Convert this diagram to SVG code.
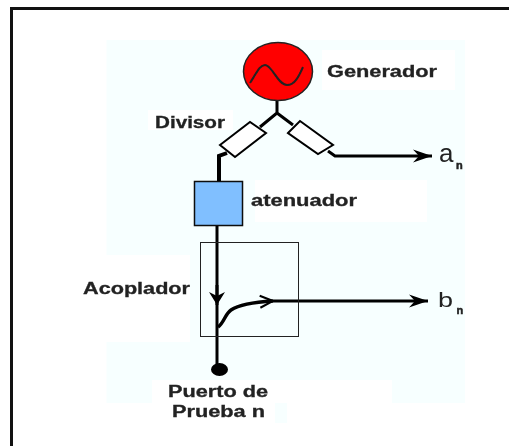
<svg xmlns="http://www.w3.org/2000/svg" width="509" height="446" viewBox="0 0 509 446">
<style>
.l{font-family:"Liberation Sans",Arial,sans-serif;font-weight:bold;font-size:16px;fill:#222;stroke:#222;stroke-width:.3}
.w{fill:none;stroke:#000;stroke-linecap:butt}
.s{font-family:"Liberation Sans",Arial,sans-serif;fill:#222}
.b{stroke:#222;stroke-width:.5;font-weight:bold}
</style>
<defs>
<filter id="soft" x="-5%" y="-5%" width="110%" height="110%"><feGaussianBlur stdDeviation="0.4"/></filter>
<marker id="a" markerUnits="userSpaceOnUse" markerWidth="22" markerHeight="16" refX="19" refY="8" orient="auto"><path d="M0 1.500 19 8 0 14.500 6 8Z" fill="#000"/></marker>
<marker id="o" markerUnits="userSpaceOnUse" markerWidth="18" markerHeight="16" refX="14" refY="8" orient="auto"><path d="M1 2 14 8 1 14" fill="none" stroke="#000" stroke-width="2"/></marker>
<marker id="d" markerUnits="userSpaceOnUse" markerWidth="16" markerHeight="20" refX="13" refY="8" orient="auto"><path d="M0 0 13 8 0 16 4 8Z" fill="#000"/></marker>
</defs>
<rect width="509" height="446" fill="#fff"/>
<path d="M106.500 40H465V403H106.500ZM275 403H287V423H275Z" fill="#f7ffff"/>
<path d="M106 255H190V342H106ZM152 380H392V403H152ZM148 110H233V130H148ZM322 50H455V90H322ZM255 180H427V222H255Z" fill="#fff"/>
<path d="M11.500 446V8.500H509" fill="none" stroke="#111" stroke-width="3"/>
<g filter="url(#soft)">
<g id="connectors">
<path class="w" stroke-width="3" d="M277 101V113L260 127M277 113 293 125"/>
<path class="w" stroke-width="4" d="M227 153 219 156V181"/>
<path class="w" stroke-width="3" d="M328 151 335 156H432" marker-end="url(#a)"/>
<path class="w" stroke-width="3" d="M217 226V364"/>
<path class="w" stroke-width="3" d="M217 285V305" marker-end="url(#d)"/>
<path class="w" stroke-width="3.500" d="M218 327C224 323 225 314 231 310C240 304 256 302 273 301" marker-end="url(#o)"/>
<path class="w" stroke-width="3" d="M273 301H428" marker-end="url(#a)"/>
</g>
<g id="generador"><ellipse cx="278" cy="71.500" rx="34.500" ry="29" fill="#f00" stroke="#222" stroke-width="1.500"/><path d="M250 83C257 72 260 65 265 65C272 65 278 85 287 85C295 85 299 76 303 67" fill="none" stroke="#222" stroke-width="2"/><text class="l" x="327" y="77" textLength="110" lengthAdjust="spacingAndGlyphs">Generador</text></g>
<g id="divisor"><text class="l" x="155" y="128" textLength="70" lengthAdjust="spacingAndGlyphs">Divisor</text>
<path d="M220 145 250 122 266 133 235 157Z" fill="#fff" stroke="#000" stroke-width="2"/>
<path d="M288 133 300 121 333 145 318 154Z" fill="#fff" stroke="#000" stroke-width="2"/></g>
<g id="atenuador"><rect x="194.500" y="181.500" width="48" height="44" fill="#80bfff" stroke="#111" stroke-width="1.500"/><text class="l" x="251" y="206" textLength="106" lengthAdjust="spacingAndGlyphs">atenuador</text></g>
<g id="acoplador"><rect x="200.500" y="242.500" width="98" height="94" fill="none" stroke="#222" stroke-width="1"/><text class="l" x="83" y="294" textLength="107" lengthAdjust="spacingAndGlyphs">Acoplador</text></g>
<g id="puerto"><ellipse cx="219.500" cy="369.500" rx="8.500" ry="6.500" fill="#000"/><text class="l" x="168" y="397" textLength="100" lengthAdjust="spacingAndGlyphs">Puerto de</text><text class="l" x="172" y="417" textLength="93" lengthAdjust="spacingAndGlyphs">Prueba n</text></g>
<g id="an"><text class="s" x="439" y="162" font-size="26">a</text><text class="s b" x="456" y="169" font-size="11">n</text></g>
<g id="bn"><text class="s" x="438" y="307" font-size="20" textLength="15" lengthAdjust="spacingAndGlyphs">b</text><text class="s b" x="456.500" y="314" font-size="11">n</text></g>
</g>
</svg>
